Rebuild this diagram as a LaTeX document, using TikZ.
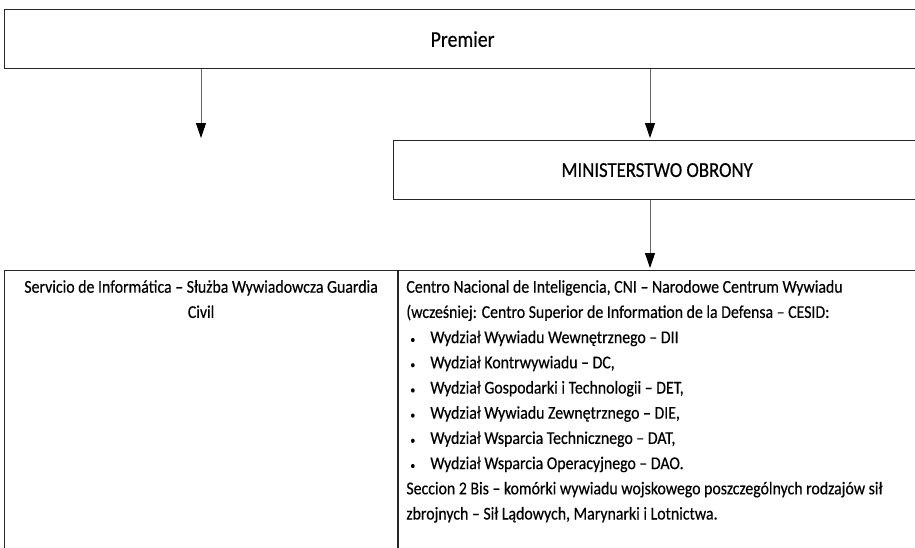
\documentclass[tikz,border=0pt]{standalone}
\usepackage{fontspec}
\setmainfont{Carlito}[FakeStretch=0.88,FakeBold=0.4]
\usepackage{tikz}
\usetikzlibrary{arrows.meta}

\tikzset{
  box/.style={draw=black!85, line width=1.2pt, inner sep=0pt, anchor=north west},
  txt/.style={inner sep=0pt, font=\fontsize{18}{25.2}\selectfont},
  arr/.style={draw=black!60, line width=0.9pt, -{Triangle[length=15pt,width=10pt,color=black]}}
}
\newcommand{\bul}{\hspace*{4pt}\makebox[20pt][l]{\fontsize{11}{11}\selectfont\textbullet}}

\begin{document}
\begin{tikzpicture}[x=1pt,y=-1pt]
\useasboundingbox (0,0) rectangle (915,547);

\node[box, minimum width=916pt, minimum height=59pt, font=\fontsize{22.5}{26}\selectfont] (premier) at (4,9) {Premier};
\node[box, minimum width=527pt, minimum height=59pt, font=\fontsize{21.3}{24}\selectfont] (mon) at (393,140) {MINISTERSTWO OBRONY};

\node[box, minimum width=393pt, minimum height=300pt] (sigc) at (4,270) {};
\node[box, minimum width=523pt, minimum height=300pt] (cni) at (sigc.north east) {};

\node[txt, anchor=north, align=center] (sigctext) at ([yshift=-10pt]sigc.north) {Servicio de Informática – Służba Wywiadowcza Guardia\\Civil};
\node[txt, anchor=north west, align=left] (cnitext) at ([xshift=8pt,yshift=-10pt]cni.north west) {Centro Nacional de Inteligencia, CNI – Narodowe Centrum Wywiadu\\
(wcześniej: Centro Superior de Information de la Defensa – CESID:\\
\bul Wydział Wywiadu Wewnętrznego – DII\\
\bul Wydział Kontrwywiadu – DC,\\
\bul Wydział Gospodarki i Technologii – DET,\\
\bul Wydział Wywiadu Zewnętrznego – DIE,\\
\bul Wydział Wsparcia Technicznego – DAT,\\
\bul Wydział Wsparcia Operacyjnego – DAO.\\
Seccion 2 Bis – komórki wywiadu wojskowego poszczególnych rodzajów sił\\
zbrojnych – Sił Lądowych, Marynarki i Lotnictwa.};

\coordinate (lefttip) at (201,138);
\coordinate (axis) at (650,0);
\draw[arr] (premier.south -| lefttip) -- (lefttip);
\draw[arr] (premier.south -| axis) -- ([yshift=2pt]mon.north -| axis);
\draw[arr] (mon.south -| axis) -- ([yshift=2pt]cni.north -| axis);
\end{tikzpicture}
\end{document}
